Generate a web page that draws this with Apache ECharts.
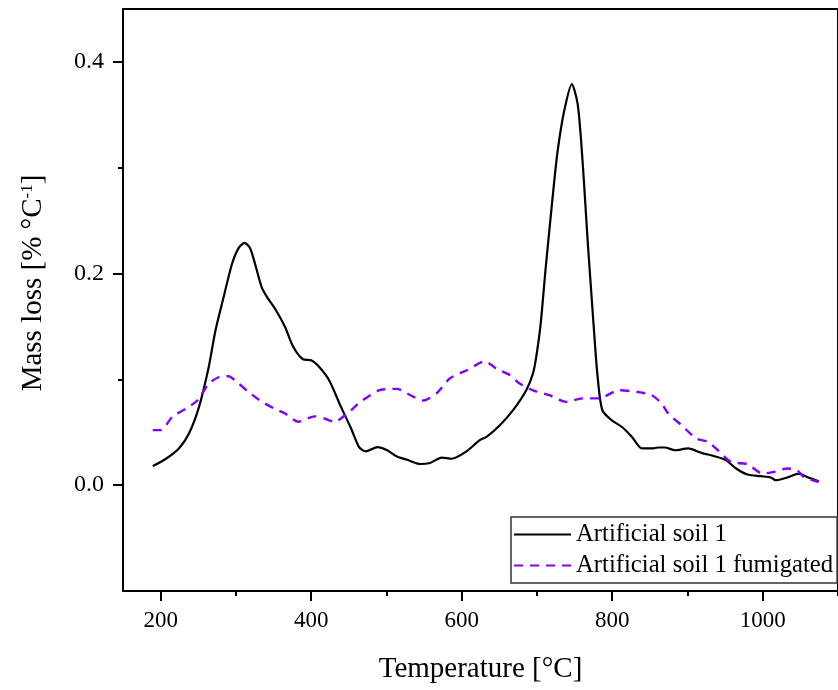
<!DOCTYPE html>
<html>
<head>
<meta charset="utf-8">
<script src="https://cdn.jsdelivr.net/npm/echarts@6/dist/echarts.min.js"></script>
<style>
  html, body { margin: 0; padding: 0; background: #fff; }
  #main { width: 838px; height: 690px; }
</style>
</head>
<body>
<div id="main"></div>
<script>
// data: [temperature, mass loss]
var soil1 = [
  [189.5, 0.018], [207, 0.025], [224.6, 0.035], [237.8, 0.049], [251, 0.074],
  [264, 0.112], [272.8, 0.146], [283.8, 0.178], [294.8, 0.209], [303.6, 0.224],
  [311.5, 0.229], [318.9, 0.224], [325.5, 0.209], [334.3, 0.187], [343, 0.176],
  [351.8, 0.167], [365, 0.150], [376, 0.131], [389, 0.119], [400, 0.118],
  [409, 0.113], [424, 0.099], [439.6, 0.074], [452.8, 0.054], [463.7, 0.036],
  [472.5, 0.032], [488, 0.036], [501, 0.033], [514, 0.027], [527.5, 0.024],
  [545, 0.020], [558, 0.021], [573.5, 0.026], [586.7, 0.025], [606.5, 0.032],
  [624, 0.0425], [633, 0.0456], [650.7, 0.0567], [668.3, 0.0709], [685.8, 0.0897],
  [694.7, 0.1055], [699, 0.121], [705, 0.153], [711.3, 0.203], [716.5, 0.241],
  [721.8, 0.279], [727.6, 0.3165], [736.3, 0.354], [746.4, 0.379], [753.9, 0.361],
  [758.3, 0.329], [762.6, 0.285], [767, 0.235], [771.4, 0.190], [775.4, 0.150],
  [780.2, 0.1055], [786.8, 0.071], [800, 0.061], [813, 0.055], [826.3, 0.0456],
  [839.5, 0.0347], [852.7, 0.0347], [861.4, 0.0356], [870, 0.0356], [883.4, 0.033],
  [900.9, 0.0347], [918.5, 0.0305], [936, 0.0274], [951.4, 0.0236], [964.6, 0.0158],
  [979.9, 0.0101], [997.5, 0.0085], [1010.7, 0.0073], [1017.3, 0.0047], [1032.5, 0.0073],
  [1048, 0.011], [1058.9, 0.0078], [1074.3, 0.0038]
];
var soil1Fumigated = [
  [189.5, 0.052], [200, 0.052], [216, 0.065], [233, 0.072], [248.7, 0.080],
  [264, 0.096], [277, 0.102], [290, 0.103], [303.6, 0.096], [316.8, 0.088],
  [334.3, 0.079], [352, 0.072], [365, 0.068], [382.6, 0.060], [404.5, 0.065],
  [417.6, 0.063], [430.8, 0.060], [448.4, 0.068], [466, 0.079], [492, 0.090],
  [514, 0.091], [531.8, 0.085], [549, 0.080], [567, 0.087], [584.5, 0.101],
  [606.8, 0.1086], [631, 0.117], [646.3, 0.110], [664, 0.104], [677, 0.096],
  [694.7, 0.0897], [716.5, 0.085], [738.5, 0.0787], [760.5, 0.082], [782.4, 0.082],
  [808.7, 0.0897], [835, 0.088], [852.7, 0.085], [865.8, 0.077], [874.5, 0.0677],
  [892, 0.0567], [911.9, 0.044], [927.2, 0.041], [940.4, 0.033], [958, 0.022],
  [979.9, 0.0198], [999.6, 0.011], [1015, 0.0126], [1032.5, 0.0158], [1045.7, 0.0142],
  [1054.5, 0.0078], [1074.3, 0.003]
];
var seriesNames = ['Artificial soil 1', 'Artificial soil 1 fumigated'];
var xMajor = [200, 400, 600, 800, 1000];
var xMinor = [300, 500, 700, 900, 1100];
var yMajor = [0, 0.2, 0.4];
var yMinor = [0.1, 0.3];

var chart = echarts.init(document.getElementById('main'));
var font = 'Liberation Serif';

function xAxisDef(ticks, len, labels) {
  return {
    type: 'value', min: 150, max: 1100, position: 'bottom',
    axisLine: { show: labels, onZero: false, lineStyle: { color: '#000', width: 2 } },
    axisTick: { show: true, length: len, customValues: ticks, lineStyle: { color: '#000', width: 2 } },
    axisLabel: {
      show: labels, customValues: ticks, margin: 18, color: '#000', fontFamily: font, fontSize: 23,
      formatter: function (v) { return String(v); }
    },
    splitLine: { show: false },
    name: labels ? 'Temperature [°C]' : '',
    nameLocation: 'middle', nameGap: 64,
    nameTextStyle: { color: '#000', fontFamily: font, fontSize: 29 }
  };
}
function yAxisDef(ticks, len, labels) {
  return {
    type: 'value', min: -0.1, max: 0.45, position: 'left',
    axisLine: { show: labels, onZero: false, lineStyle: { color: '#000', width: 2 } },
    axisTick: { show: true, length: len, customValues: ticks, lineStyle: { color: '#000', width: 2 } },
    axisLabel: {
      show: labels, customValues: ticks, margin: 19, color: '#000', fontFamily: font, fontSize: 24,
      formatter: function (v) { return v.toFixed(1); }
    },
    splitLine: { show: false },
    name: labels ? 'Mass loss [% °C{sup|-1}]' : '',
    nameLocation: 'middle', nameGap: 75, nameRotate: 90,
    nameTextStyle: {
      color: '#000', fontFamily: font, fontSize: 29, padding: [0, 0, 0, 34],
      rich: { sup: { fontFamily: font, fontSize: 17, verticalAlign: 'top', color: '#000', padding: [0, 0, 12, 0] } }
    }
  };
}

var option = {
  backgroundColor: '#fff',
  animation: false,
  grid: { left: 123, top: 9, width: 722, height: 582, show: true, borderColor: '#000', borderWidth: 2 },
  xAxis: [xAxisDef(xMajor, 10, true), xAxisDef(xMinor, 5, false)],
  yAxis: [yAxisDef(yMajor, 10, true), yAxisDef(yMinor, 5, false)],
  legend: {
    orient: 'vertical', left: 511, top: 517,
    backgroundColor: '#fff', borderColor: '#333', borderWidth: 1.5,
    padding: [5, 4, 5, 2], itemGap: 6, itemWidth: 57, itemHeight: 14,
    itemStyle: { opacity: 0 },
    textStyle: { color: '#000', fontFamily: font, fontSize: 24.7, lineHeight: 24 },
    data: seriesNames
  },
  series: [
    {
      name: seriesNames[0], type: 'line', data: soil1, smooth: 0.25,
      symbol: 'none', lineStyle: { color: '#000', width: 2.2 }, itemStyle: { color: '#000' }
    },
    {
      name: seriesNames[1], type: 'line', data: soil1Fumigated, smooth: 0.25,
      symbol: 'none', lineStyle: { color: '#8000ff', width: 2.4, type: [9, 7] }, itemStyle: { color: '#8000ff' }
    }
  ]
};
chart.setOption(option);
</script>
</body>
</html>
